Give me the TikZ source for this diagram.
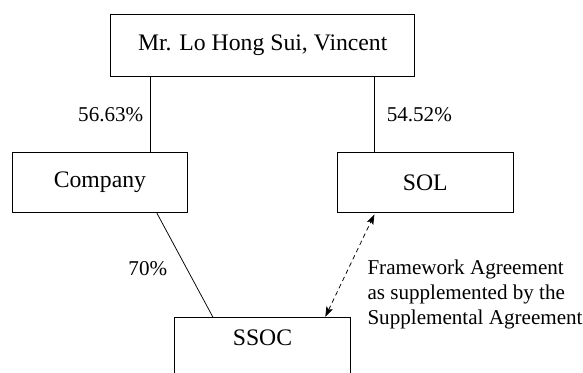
\documentclass[tikz,border=0pt]{standalone}
\usepackage{fontspec}
\setmainfont{Liberation Serif}
\usetikzlibrary{calc,arrows.meta}
\begin{document}
\begin{tikzpicture}[x=1pt,y=-1pt,
  box/.style={draw,line width=0.8pt,rectangle,inner sep=0pt,font=\fontsize{23.7}{28}\selectfont},
  conn/.style={line width=0.75pt},
  lab/.style={inner sep=0pt,font=\fontsize{21.1}{25}\selectfont},
  dasharrow/.style={line width=0.75pt,dash pattern=on 4.5pt off 3.5pt,{Stealth[length=10pt,width=7pt,inset=2pt]}-{Stealth[length=10pt,width=7pt,inset=2pt]}}]
\clip (0,0) rectangle (583,372);
\node[box,minimum width=303.8pt,minimum height=61.3pt] (top) at (262.7,45.4) {Mr. Lo Hong Sui, Vincent};
\node[box,minimum width=175.9pt,minimum height=60.7pt] (company) at (99.9,182.4) {Company};
\node[box,minimum width=176.2pt,minimum height=60.7pt] (sol) at (425.3,182.4) {SOL};
\node[box,anchor=north,minimum width=175.5pt,text height=27.7pt,text depth=40pt] (ssoc) at (262.5,317.3) {SSOC};
\coordinate (cl) at (150.6,0);
\coordinate (cr) at (374.4,0);
\draw[conn] (cl |- top.south) -- (cl |- company.north);
\draw[conn] (cr |- top.south) -- (cr |- sol.north);
\draw[conn] ($(company.south)+(57,0)$) -- ($(ssoc.north)+(-49.5,0)$);
\draw[dasharrow] ($(ssoc.north)+(62.8,-0.5)$) -- ($(sol.south)+(-50.9,1.2)$);
\node[lab,anchor=east] (p1) at (143.5,115) {56.63\%};
\node[lab,anchor=west] (p2) at (386.6,115) {54.52\%};
\node[lab] (p3) at (147.8,268.3) {70\%};
\node[lab,anchor=north west,align=left] (fa) at (367.3,259.5) {Framework Agreement\\as supplemented by the\\Supplemental Agreement};
\end{tikzpicture}
\end{document}
